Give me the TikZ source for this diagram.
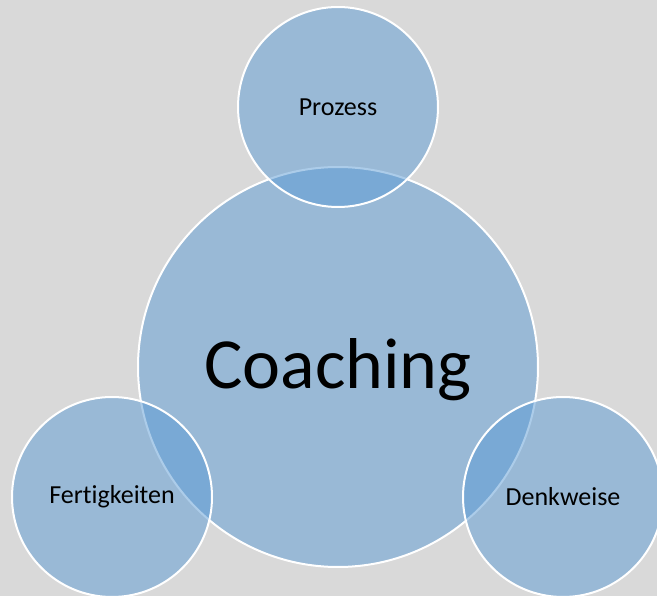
\documentclass[tikz,border=0pt]{standalone}
\usepackage{fontspec}
\setmainfont[Ligatures={NoCommon}]{Carlito}
\definecolor{ringblue}{HTML}{5B9BD5}
\definecolor{bggray}{HTML}{D9D9D9}

\begin{document}
\begin{tikzpicture}[x=1pt,y=-1pt,
		ring/.style={circle,draw=white,line width=2pt,fill=ringblue,fill opacity=0.5,text opacity=1,inner sep=0pt},
		hub/.style={ring,minimum size=400pt,text height=59pt,text depth=15pt,font=\fontsize{72}{80}\selectfont},
		petal/.style={ring,minimum size=200pt,font=\fontsize{26}{30}\selectfont}]
		\useasboundingbox (0,0) rectangle (657,596);
		\fill[bggray] (0,0) rectangle (657,596);
		\clip (0,0) rectangle (657,596);
		\node[hub](coach) at (338,367){Coaching};
		\node[petal](prozess) at (338,107){Prozess};
		\node[petal](fertig) at (112,497){Fertigkeiten};
		\node[petal](denk) at (563,497){Denkweise};
	\end{tikzpicture}
\end{document}
